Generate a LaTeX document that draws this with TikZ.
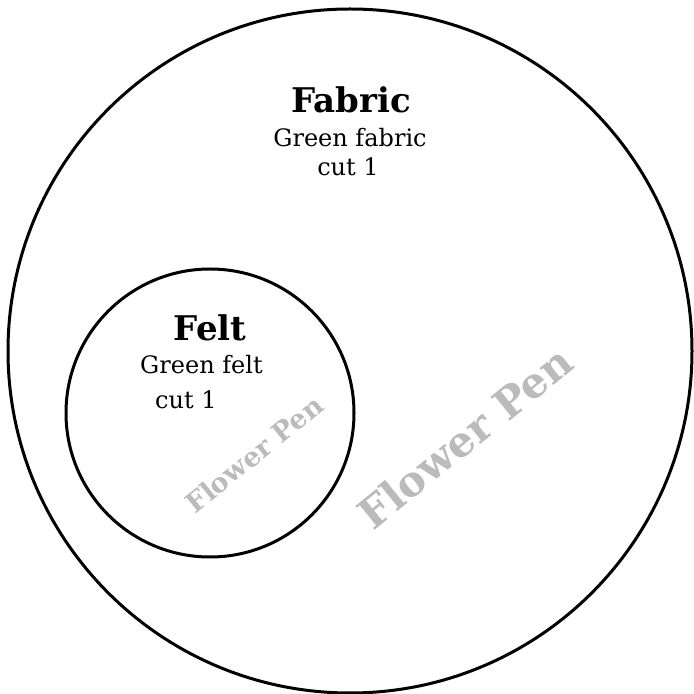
\documentclass[tikz,border=0pt]{standalone}
\usepackage{fontspec}
\setmainfont{DejaVu Serif}
\usetikzlibrary{positioning}
\definecolor{ink}{HTML}{000000}
\definecolor{mark}{HTML}{BBBBBB}

\begin{document}
\begin{tikzpicture}[x=1pt,y=1pt,
  ring/.style={circle,draw=ink,line width=3pt,inner sep=0pt},
  title/.style={font=\fontsize{34}{38}\selectfont\bfseries,inner sep=0pt},
  note/.style={font=\fontsize{24}{28}\selectfont,inner sep=0pt},
  stamp/.style={text=mark,font=\bfseries,inner sep=0pt,rotate=39}]
\useasboundingbox (0,0) rectangle (694,694);
\node[ring,minimum size=684pt] (fabric) at (350,343) {};
\node[ring,minimum size=288pt] (felt) at (210,281) {};
% labels
\node[title] (fabrictitle) at (351,594) {Fabric};
\node[note] (fabricnote) at (350,556) {Green fabric};
\node[note] (fabriccut) at (348,527) {cut 1};
\node[title] (felttitle) at (210,366) {Felt};
\node[note,anchor=west] (feltnote) at (140,329) {Green felt};
\node[note,anchor=west] (feltcut) at (155,294) {cut 1};
% watermarks
\node[stamp,font=\fontsize{27}{30}\selectfont\bfseries] (penfelt) at (254,240) {Flower Pen};
\node[stamp,font=\fontsize{42}{46}\selectfont\bfseries] (penfabric) at (465,257) {Flower Pen};
\end{tikzpicture}
\end{document}
